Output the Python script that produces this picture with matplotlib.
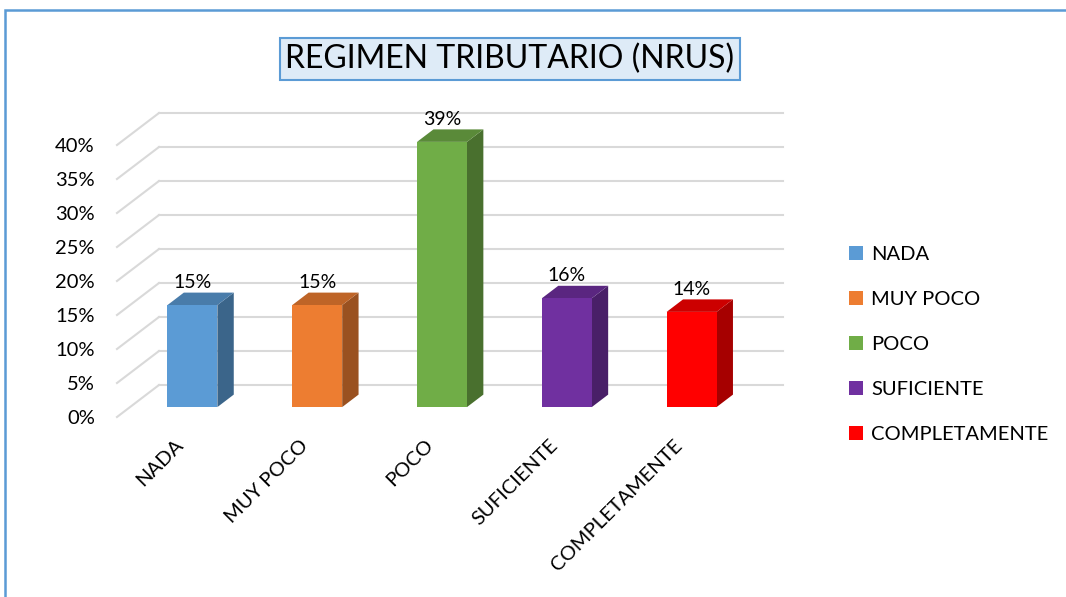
import numpy as np
import matplotlib
matplotlib.use("Agg")
import matplotlib.pyplot as plt
from matplotlib.patches import Polygon, Patch, Rectangle
from matplotlib.colors import to_rgb
from matplotlib.transforms import ScaledTranslation

plt.rcParams["font.family"] = ["Lato", "DejaVu Sans"]

# data
categories = ["NADA", "MUY POCO", "POCO", "SUFICIENTE", "COMPLETAMENTE"]
values = [0.15, 0.15, 0.39, 0.16, 0.14]
value_labels = ["15%", "15%", "39%", "16%", "14%"]
colors = ["#5B9BD5", "#ED7D31", "#70AD47", "#7030A0", "#FF0000"]
yticks = [0.0, 0.05, 0.10, 0.15, 0.20, 0.25, 0.30, 0.35, 0.40]
ytick_labels = ["0%", "5%", "10%", "15%", "20%", "25%", "30%", "35%", "40%"]
title = "REGIMEN TRIBUTARIO (NRUS)"

W, H, DPI = 1066, 597, 100
fig = plt.figure(figsize=(W / DPI, H / DPI), dpi=DPI)

# front plane of the 3d box, in pixels
ax_l, ax_r, ax_top, ax_bot = 117, 741, 145, 417
ax = fig.add_axes([ax_l / W, (H - ax_bot) / H, (ax_r - ax_l) / W, (ax_bot - ax_top) / H])
ax.set_xlim(-0.5, len(categories) - 0.5)
ax.set_ylim(0, 0.40)
ax.patch.set_visible(False)
for s in ax.spines.values():
    s.set_visible(False)

# depth offset (pixels -> data units)
depth_px = (42, 32)
dxd = depth_px[0] / ((ax_r - ax_l) / len(categories))
dyd = depth_px[1] / ((ax_bot - ax_top) / 0.40)

grid_c = "#D9D9D9"
x0, x1 = -0.5, len(categories) - 0.5
for t in yticks:
    ax.plot([x0 + dxd, x1 + dxd], [t + dyd, t + dyd], color=grid_c, lw=1.5, clip_on=False, zorder=1)
    ax.plot([x0, x0 + dxd], [t, t + dyd], color=grid_c, lw=1.5, clip_on=False, zorder=1)

# bars sit in the middle of the depth
d0, d1 = 0.31, 0.70
w = 0.40
xs = np.arange(len(categories)) + d0 * dxd
b0 = d0 * dyd
ddx, ddy = (d1 - d0) * dxd, (d1 - d0) * dyd


def shade(c, f):
    r, g, b = to_rgb(c)
    return (r * f, g * f, b * f)


bars = ax.bar(xs, values, width=w, bottom=b0, color=colors, zorder=3)
for b in bars:
    b.set_clip_on(False)
for x, v, c, lab in zip(xs, values, colors, value_labels):
    xl, xr = x - w / 2, x + w / 2
    top = b0 + v
    ax.add_patch(Polygon([(xr, b0), (xr, top), (xr + ddx, top + ddy), (xr + ddx, b0 + ddy)],
                         closed=True, fc=shade(c, 0.65), ec="none", zorder=2, clip_on=False))
    ax.add_patch(Polygon([(xl, top), (xr, top), (xr + ddx, top + ddy), (xl + ddx, top + ddy)],
                         closed=True, fc=shade(c, 0.8), ec="none", zorder=2, clip_on=False))
    ax.text(x, top + ddy + 0.002, lab, ha="center", va="bottom", fontsize=14, color="black", zorder=4)

ax.set_yticks(yticks)
ax.set_yticklabels(ytick_labels, fontsize=14.5)
ax.tick_params(axis="y", length=0, pad=16)
ax.set_xticks(np.arange(len(categories)))
ax.set_xticklabels(categories, fontsize=14.5, rotation=45, ha="right", rotation_mode="anchor")
ax.tick_params(axis="x", length=0, pad=14)
shift = ScaledTranslation(-0.05, 0, fig.dpi_scale_trans)
for lbl in ax.get_xticklabels():
    lbl.set_transform(lbl.get_transform() + shift)

# legend
handles = [Patch(facecolor=c, edgecolor="none") for c in colors]
fig.legend(handles, categories, loc="upper left", bbox_to_anchor=(831 / W, 1 - 228 / H),
           frameon=False, fontsize=14.5, handlelength=0.7, handleheight=0.7,
           handletextpad=0.4, labelspacing=1.38)

# title box
fig.text(510 / W, 1 - 59 / H, title, ha="center", va="center", fontsize=23,
         bbox=dict(boxstyle="square,pad=0.18", fc="#DEEBF7", ec="#5B9BD5", lw=1.5))

# outer frame (top and left edges visible)
fig.add_artist(Rectangle((5 / W, -0.05), 1.1, 1 - 10 / H + 0.05, transform=fig.transFigure,
                         fill=False, ec="#5B9BD5", lw=1.8, clip_on=False))

fig.savefig("out.png", dpi=DPI)
